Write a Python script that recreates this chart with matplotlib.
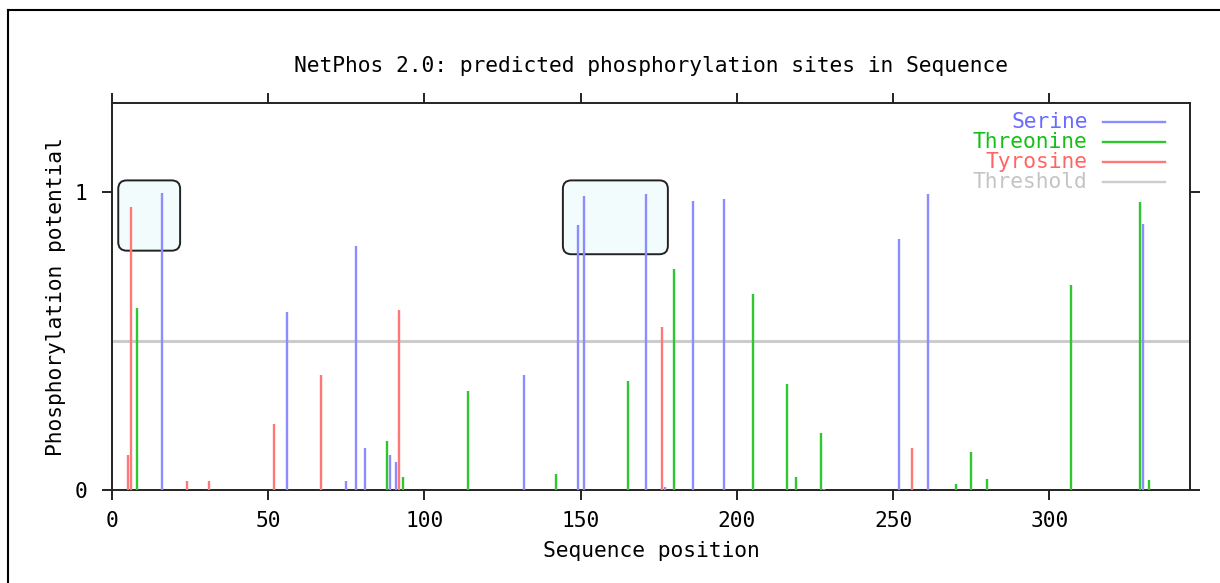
import matplotlib
matplotlib.use('Agg')
import matplotlib.pyplot as plt
from matplotlib.patches import FancyBboxPatch
from matplotlib.lines import Line2D

plt.rcParams['font.family'] = 'DejaVu Sans Mono'

# predicted sites: sequence position and score
serine_pos = [16, 56, 75, 78, 81, 89, 91, 132, 149, 151, 171, 177, 186, 196, 228, 252, 261, 330]
serine_val = [0.997, 0.597, 0.031, 0.818, 0.140, 0.117, 0.093, 0.387, 0.891, 0.988, 0.995, 0.011,
              0.971, 0.978, 0.005, 0.843, 0.995, 0.893]

threonine_pos = [8, 88, 93, 114, 142, 165, 180, 205, 216, 219, 227, 270, 275, 280, 307, 329, 332]
threonine_val = [0.611, 0.166, 0.043, 0.331, 0.054, 0.367, 0.743, 0.658, 0.356, 0.043, 0.190,
                 0.019, 0.129, 0.038, 0.689, 0.966, 0.034]

tyrosine_pos = [5, 6, 24, 31, 52, 67, 92, 176, 256]
tyrosine_val = [0.117, 0.950, 0.031, 0.031, 0.222, 0.387, 0.603, 0.546, 0.140]

threshold = 0.5

# highlighted regions (x0, x1, y0, y1)
highlights = [(2.0, 21.8, 0.804, 1.040), (144.3, 177.9, 0.792, 1.040)]

colors = {'Serine': '#8c8cff', 'Threonine': '#2ec82e', 'Tyrosine': '#ff7878', 'Threshold': '#cccccc'}
text_colors = {'Serine': '#6a6aff', 'Threonine': '#14c014', 'Tyrosine': '#ff6464', 'Threshold': '#c4c4c4'}

FS = 15.3

fig = plt.figure(figsize=(12.2, 5.83), dpi=100)
ax = fig.add_axes([112 / 1220, 1 - 490 / 583, 1078 / 1220, 387 / 583])

# page border (top and left)
fig.add_artist(Line2D([8 / 1220, 8 / 1220], [0, 1 - 9.5 / 583], transform=fig.transFigure,
                      color='black', lw=1.5))
fig.add_artist(Line2D([8 / 1220, 1], [1 - 9.5 / 583, 1 - 9.5 / 583], transform=fig.transFigure,
                      color='black', lw=1.5))

for (x0, x1, y0, y1) in highlights:
    box = FancyBboxPatch((x0, y0), x1 - x0, y1 - y0,
                         boxstyle='round,pad=0,rounding_size=2.7', mutation_aspect=0.0105,
                         facecolor='#f2fcfd', edgecolor='#222222', lw=1.4, zorder=1)
    ax.add_patch(box)

ax.axhline(threshold, color=colors['Threshold'], lw=2.2, zorder=2)
ax.vlines(threonine_pos, 0, threonine_val, color=colors['Threonine'], lw=1.7, zorder=3)
ax.vlines(tyrosine_pos, 0, tyrosine_val, color=colors['Tyrosine'], lw=1.7, zorder=3)
ax.vlines(serine_pos, 0, serine_val, color=colors['Serine'], lw=1.7, zorder=4)

ax.set_xlim(0, 345)
ax.set_ylim(0, 1.3)
ax.set_xticks([0, 50, 100, 150, 200, 250, 300])
ax.set_yticks([0, 1])
ax.tick_params(direction='out', length=7, width=1.4, color='#222222', labelsize=FS,
               top=True, right=True, labeltop=False, labelright=False)
ax.tick_params(axis='x', pad=8)
ax.tick_params(axis='y', pad=11)
for s in ax.spines.values():
    s.set_linewidth(1.4)
    s.set_color('#222222')

ax.set_title('NetPhos 2.0: predicted phosphorylation sites in Sequence', fontsize=FS, pad=22)
ax.set_xlabel('Sequence position', fontsize=FS, labelpad=7)
ax.set_ylabel('Phosphorylation potential', fontsize=FS, labelpad=6)

# legend: right-aligned coloured text with line sample on the right
names = ['Serine', 'Threonine', 'Tyrosine', 'Threshold']
for i, name in enumerate(names):
    yy = 0.9517 - i * 0.0517
    ax.text(0.905, yy, name, transform=ax.transAxes, ha='right', va='center',
            color=text_colors[name], fontsize=FS)
    ax.plot([0.9193, 0.977], [yy, yy], transform=ax.transAxes, color=colors[name], lw=1.7)

fig.savefig('out.png', dpi=100)
